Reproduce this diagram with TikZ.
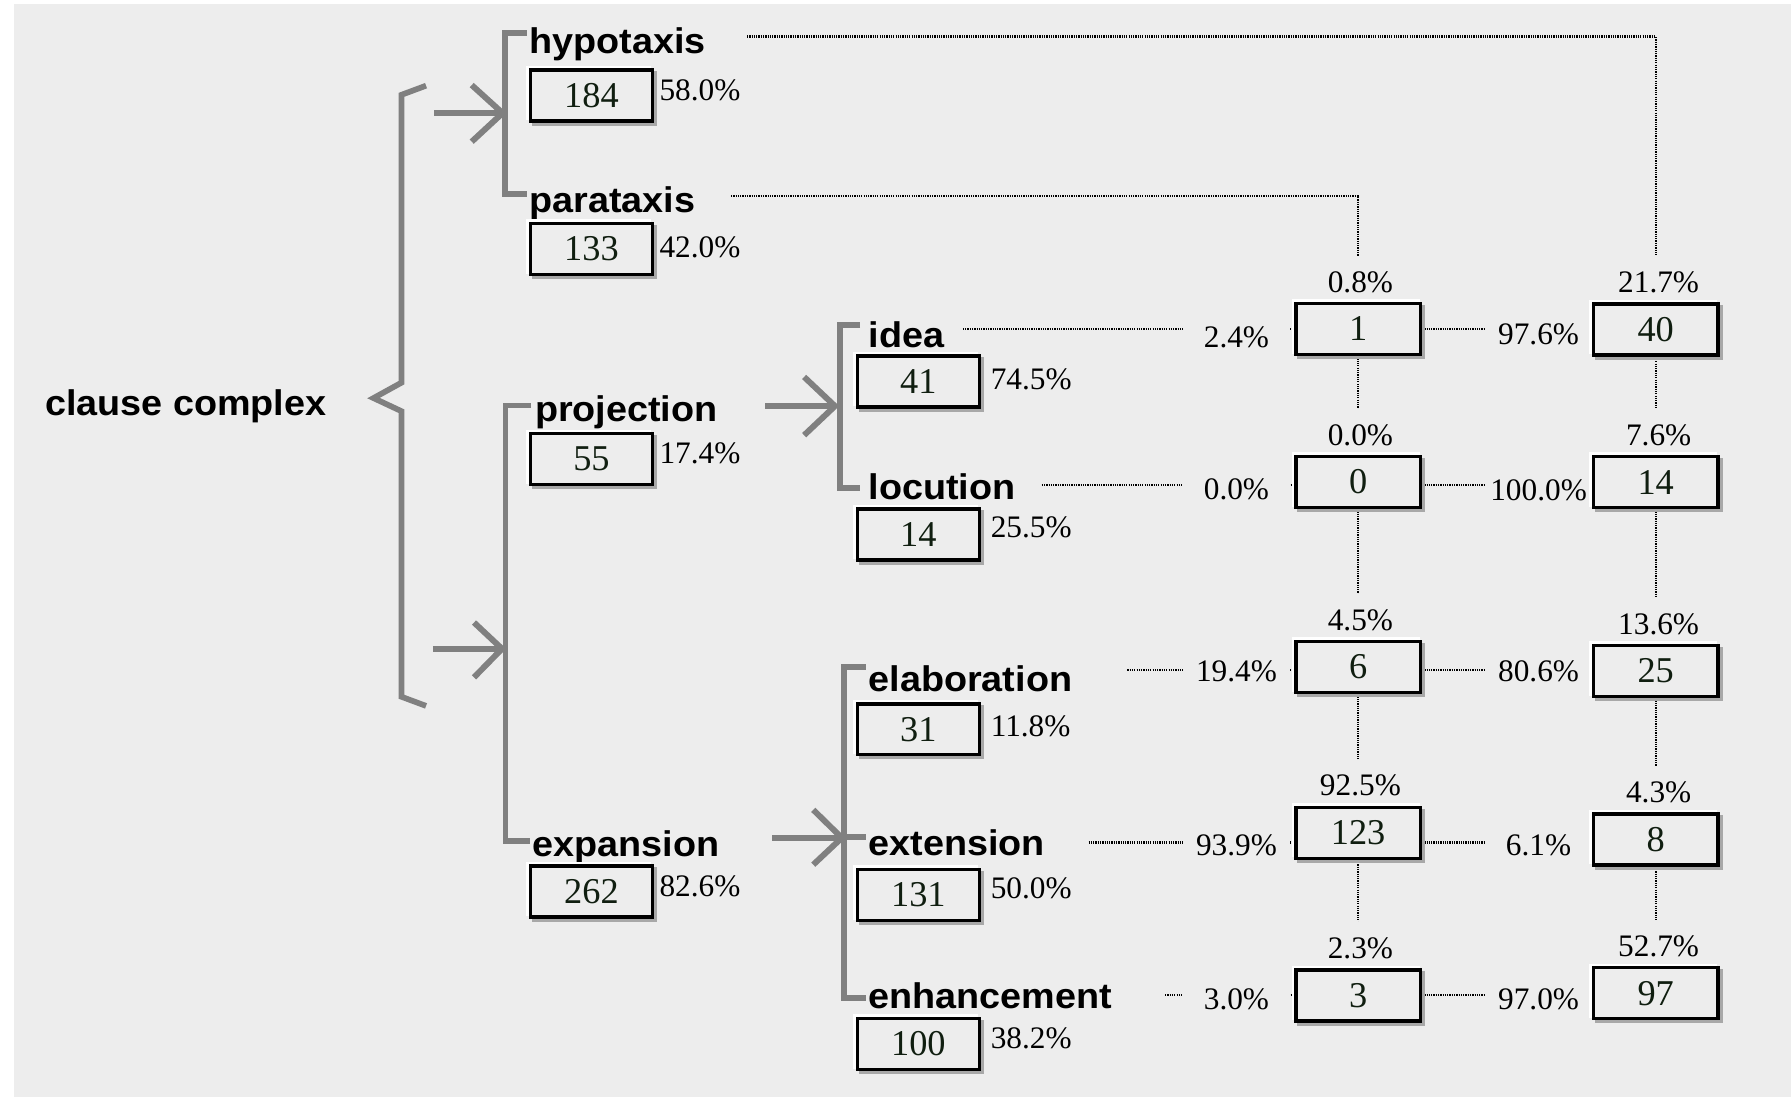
\documentclass[tikz,border=0pt]{standalone}
\usepackage{fontspec}
\setmainfont{Liberation Serif}
\newfontfamily\catfont[FakeStretch=1.06]{Liberation Sans Bold}
\definecolor{bg}{RGB}{237,237,237}
\definecolor{brk}{RGB}{128,128,128}
\definecolor{numink}{RGB}{16,30,16}
\definecolor{shade}{RGB}{168,168,168}
\pgfdeclarelayer{back}
\pgfdeclarelayer{ties}
\pgfdeclarelayer{masks}
\pgfsetlayers{back,ties,masks,main}
\begin{document}
\begin{tikzpicture}[x=0.5pt,y=-0.5pt,
  cat/.style={font=\catfont\fontsize{15.6}{17}\selectfont, anchor=base west, inner sep=0pt},
  numbox/.style={draw=black, line width=1.45pt, fill=bg, text=numink,
    font=\fontsize{15.9}{17}\selectfont, inner sep=0pt,
    preaction={draw=white, line width=1.45pt, transform canvas={shift={(-1.1pt,1.1pt)}}},
    preaction={draw=shade, line width=1.45pt, transform canvas={shift={(1.3pt,-1.3pt)}}}},
  abox/.style={numbox, minimum width=53.25pt, minimum height=22.3pt},
  cbox/.style={numbox, minimum width=54.5pt, minimum height=22.3pt},
  pct/.style={font=\fontsize{13.7}{15}\selectfont, inner sep=0pt, anchor=base west},
  toppct/.style={pct, anchor=base, fill=bg, inner xsep=2pt, text height=16pt, text depth=3.5pt},
  sidepct/.style={pct, anchor=base, fill=bg, inner ysep=2pt, minimum width=46.5pt},
  tie/.style={draw=black, line width=1pt, dash pattern=on 0.55pt off 0.45pt},
  brk/.style={draw=brk, line width=2.5pt, line join=miter},
  arr/.style={draw=brk, line width=2.6pt}
]
\useasboundingbox (0,0) rectangle (1568,960);

% canvas
\begin{pgfonlayer}{back}
  \fill[white] (0,0) rectangle (1568,960);
  \fill[bg] (12.3,3.5) rectangle (1568,960);
\end{pgfonlayer}

% ---- category labels ----
\node[cat] (cc)   at (39,364)  {clause complex};
\node[cat] (hyp)  at (463,47)  {hypotaxis};
\node[cat] (par)  at (463,186) {parataxis};
\node[cat] (proj) at (468,369) {projection};
\node[cat] (expa) at (466,750) {expansion};
\node[cat] (idea) at (760,304) {idea};
\node[cat] (loc)  at (760,437) {locution};
\node[cat] (ela)  at (760,605) {elaboration};
\node[cat] (ext)  at (760,749) {extension};
\node[cat] (enh)  at (760,883) {enhancement};

% ---- count boxes, first levels ----
\node[abox] (hypn)  at (517.8,83.6) {184};
\node[abox] (parn)  at (517.8,218)  {133};
\node[abox] (projn) at (517.8,402)  {55};
\node[abox] (expn)  at (517.8,780.5){262};
\node[abox] (idean) at (804,334)    {41};
\node[abox] (locn)  at (804,468)    {14};
\node[abox] (elan)  at (804,638.5)  {31};
\node[abox] (extn)  at (804,783.5)  {131};
\node[abox] (enhn)  at (804,914)    {100};

% ---- share labels beside the boxes ----
\node[pct] (hypp)  at (577,88)  {58.0\%};
\node[pct] (parp)  at (577,225) {42.0\%};
\node[pct] (projp) at (577,406) {17.4\%};
\node[pct] (expp)  at (577,785) {82.6\%};
\node[pct] (ideap) at (867,341) {74.5\%};
\node[pct] (locp)  at (867,471) {25.5\%};
\node[pct] (elap)  at (867,645) {11.8\%};
\node[pct] (extp)  at (867,787) {50.0\%};
\node[pct] (enhp)  at (867,918) {38.2\%};

% ---- cross-tabulation boxes ----
\node[cbox] (c1)   at (1189,288)   {1};
\node[cbox] (c0)   at (1189,422)   {0};
\node[cbox] (c6)   at (1189,584)   {6};
\node[cbox] (c123) at (1189,729)   {123};
\node[cbox] (c3)   at (1189,871.5) {3};
\node[cbox] (d40)  at (1449.5,288.5){40};
\node[cbox] (d14)  at (1449.5,422)  {14};
\node[cbox] (d25)  at (1449.5,587.5){25};
\node[cbox] (d8)   at (1449.5,735)  {8};
\node[cbox] (d97)  at (1449.5,869.5){97};

% ---- brace and brackets ----
\draw[brk] (373,75) -- (351.5,83) -- (351.5,335) -- (327,348.5) -- (351.5,360) -- (351.5,610) -- (373,618);
\draw[brk] (461,29) -- (442,29) -- (442,170) -- (461,170);
\draw[brk] (465,355) -- (442.5,355) -- (442.5,736) -- (464,736);
\draw[brk] (753,284.5) -- (735.5,284.5) -- (735.5,427) -- (753,427);
\draw[brk] (758,584) -- (739,584) -- (739,874) -- (758,874);
\draw[brk] (739,733) -- (758,733);

% ---- open arrows ----
\draw[arr] (380,99) -- (440,99);
\draw[arr] (413,74.5) -- (440,99) -- (413,124);
\draw[arr] (379,568) -- (439,568);
\draw[arr] (415,545) -- (439.5,568) -- (415,593);
\draw[arr] (670,355.5) -- (731,355.5);
\draw[arr] (704,330) -- (731,355.5) -- (704,381);
\draw[arr] (676,733.5) -- (737,733.5);
\draw[arr] (712,709) -- (737,733.5) -- (712,757);

% ---- dotted ties ----
\coordinate (hyp-out)  at (654,32);
\coordinate (par-out)  at (640,171.6);
\coordinate (idea-out) at (843,288);
\coordinate (loc-out)  at (912,424.6);
\coordinate (ela-out)  at (987,586.6);
\coordinate (ext-out)  at (953,737.5);
\coordinate (enh-out)  at (1020,871);

\begin{pgfonlayer}{ties}
  \draw[tie] (hyp-out) -| (d40.north);
  \draw[tie] (par-out) -| (c1.north);
  \foreach \s/\c/\d in {idea-out/c1/d40, loc-out/c0/d14, ela-out/c6/d25,
                        ext-out/c123/d8, enh-out/c3/d97}{
    \draw[tie] (\s) -- (\s -| \c.west);
    \draw[tie] (\s -| \c.east) -- (\s -| \d.west);
  }
  \draw[tie] (c1.south) -- (c0.north);
  \draw[tie] (c0.south) -- (c6.north);
  \draw[tie] (c6.south) -- (c123.north);
  \draw[tie] (c123.south) -- (c3.north);
  \draw[tie] (d40.south) -- (d14.north);
  \draw[tie] (d14.south) -- (d25.north);
  \draw[tie] (d25.south) -- (d8.north);
  \draw[tie] (d8.south) -- (d97.north);
\end{pgfonlayer}

% ---- percentages on the ties ----
\begin{pgfonlayer}{masks}
  \node[toppct] (c1t)   at ([xshift=1pt,yshift=4.2pt]c1.north)   {0.8\%};
  \node[toppct] (c0t)   at ([xshift=1pt,yshift=4.2pt]c0.north)   {0.0\%};
  \node[toppct] (c6t)   at ([xshift=1pt,yshift=4.2pt]c6.north)   {4.5\%};
  \node[toppct] (c123t) at ([xshift=1pt,yshift=4.2pt]c123.north) {92.5\%};
  \node[toppct] (c3t)   at ([xshift=1pt,yshift=4.2pt]c3.north)   {2.3\%};
  \node[toppct] (d40t)  at ([xshift=1.3pt,yshift=4.2pt]d40.north) {21.7\%};
  \node[toppct] (d14t)  at ([xshift=1.3pt,yshift=4.2pt]d14.north) {7.6\%};
  \node[toppct] (d25t)  at ([xshift=1.3pt,yshift=4.2pt]d25.north) {13.6\%};
  \node[toppct] (d8t)   at ([xshift=1.3pt,yshift=4.2pt]d8.north)  {4.3\%};
  \node[toppct] (d97t)  at ([xshift=1.3pt,yshift=4.2pt]d97.north) {52.7\%};

  \node[sidepct] (r1l) at (1082.5,304) {2.4\%};
  \node[sidepct] (r2l) at (1082.5,437) {0.0\%};
  \node[sidepct] (r3l) at (1082.5,597) {19.4\%};
  \node[sidepct] (r4l) at (1082.5,749) {93.9\%};
  \node[sidepct] (r5l) at (1082.5,884) {3.0\%};
  \node[sidepct] (r1r) at (1347,302) {97.6\%};
  \node[sidepct] (r2r) at (1347,438) {100.0\%};
  \node[sidepct] (r3r) at (1347,597) {80.6\%};
  \node[sidepct] (r4r) at (1347,749) {6.1\%};
  \node[sidepct] (r5r) at (1347,884) {97.0\%};
\end{pgfonlayer}
\end{tikzpicture}
\end{document}
